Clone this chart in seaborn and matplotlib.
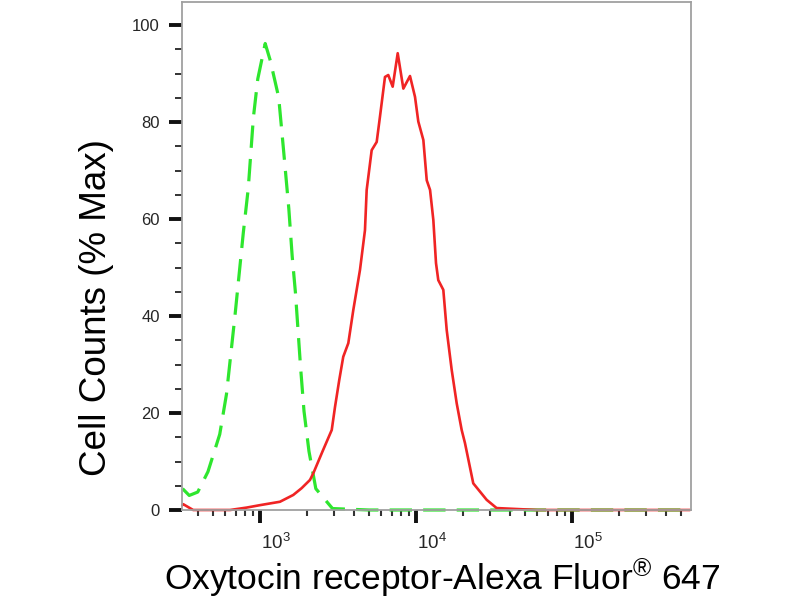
import numpy as np
import pandas as pd
import matplotlib
matplotlib.use("Agg")
import matplotlib.pyplot as plt
import matplotlib.ticker as mticker
import matplotlib.transforms as mtrans
import seaborn as sns

# ---- data ----
green_x = [319, 352, 399, 464, 552, 610, 691, 782, 841, 907, 968, 1080, 1164,
           1318, 1419, 1531, 1608, 1689, 1821, 1915, 2061, 2280, 2917, 5000,
           20000, 100000, 570000]
green_y = [4.4, 3.0, 3.7, 7.9, 15.6, 23.9, 40.0, 57.2, 66.3, 80.9, 88.9, 96.2,
           92.7, 85.1, 73.9, 62.1, 52.4, 44.7, 29.4, 20.4, 12.1, 4.4, 0.3, 0.0,
           0.0, 0.0, 0.0]

red_x = [318, 322, 373, 643, 822, 1000, 1343, 1634, 1849, 2092, 2199, 2518,
         2884, 3028, 3222, 3418, 3683, 3963, 4375, 4710, 4830, 5200, 5600,
         5876, 6328, 6642, 7090, 7636, 8298, 9154, 9857, 10350, 11150, 11720,
         12310, 12920, 13440, 13900, 14970, 15740, 16940, 18240, 19630, 20610,
         23290, 28380, 32870, 60000, 200000, 570000]
red_y = [1.0, 1.2, 0.0, 0.0, 0.5, 1.0, 1.7, 3.1, 4.5, 6.2, 7.6, 12.1,
         16.5, 21.3, 26.8, 31.6, 34.4, 41.2, 49.5, 57.7, 66.0, 74.2, 75.9,
         81.1, 89.3, 89.7, 87.3, 94.2, 86.9, 89.5, 85.2, 80.1, 76.3, 68.0,
         66.0, 59.8, 50.9, 47.4, 45.4, 37.1, 28.9, 22.0, 16.5, 13.8,
         5.5, 2.1, 0.4, 0.0, 0.0, 0.0]

y_ticks = [0, 20, 40, 60, 80, 100]
x_major = [1e3, 1e4, 1e5]
x_label = "Oxytocin receptor-Alexa Fluor$^{®}$ 647"
y_label = "Cell Counts (% Max)"

# ---- style ----
sns.set_theme(style="white")
plt.rcParams['font.family'] = ['Liberation Sans', 'DejaVu Sans']
plt.rcParams['mathtext.fontset'] = 'custom'
plt.rcParams['mathtext.rm'] = 'Liberation Sans'
plt.rcParams['mathtext.it'] = 'Liberation Sans:italic'
plt.rcParams['mathtext.bf'] = 'Liberation Sans:bold'

fig = plt.figure(figsize=(8, 6), dpi=100)
ax = fig.add_axes([181.5 / 800, 1 - 510 / 600, (690.7 - 181.5) / 800, (510 - 2.3) / 600])

green_df = pd.DataFrame({"x": green_x, "y": green_y})
red_df = pd.DataFrame({"x": red_x, "y": red_y})

sns.lineplot(data=green_df, x="x", y="y", ax=ax, color="#2ee62e",
             linewidth=2.3, linestyle=(0, (7, 3.5)), sort=False,
             estimator=None)
sns.lineplot(data=red_df, x="x", y="y", ax=ax, color="#f02424",
             linewidth=1.9, sort=False, estimator=None)
for ln in ax.lines:
    ln.set_clip_on(False)
    ln.set_solid_joinstyle("round")

ax.set_xscale("log")
ax.set_xlim(314, 576800)
ax.set_ylim(0, 104.7)

# y ticks
ax.set_yticks(y_ticks)
ax.yaxis.set_minor_locator(mticker.MultipleLocator(5))
ax.tick_params(axis="y", which="major", direction="out", length=9.5, width=2.8,
               color="#111111", labelsize=12, pad=6, left=True)
ax.tick_params(axis="y", which="minor", direction="out", length=5, width=1.4,
               color="#333333", left=True)

# x ticks
ax.xaxis.set_major_locator(mticker.FixedLocator(x_major))
ax.xaxis.set_major_formatter(mticker.LogFormatterSciNotation())
ax.xaxis.set_minor_locator(mticker.LogLocator(base=10, subs=np.arange(2, 10)))
ax.xaxis.set_minor_formatter(mticker.NullFormatter())
ax.tick_params(axis="x", which="major", direction="out", length=9.5, width=2.8,
               color="#111111", labelsize=13.5, pad=7, bottom=True)
ax.tick_params(axis="x", which="minor", direction="out", length=4.5, width=1.5,
               color="#333333", bottom=True)
offset = mtrans.ScaledTranslation(1 / 100, 0, fig.dpi_scale_trans)
for lbl in ax.get_xticklabels():
    lbl.set_horizontalalignment("left")
    lbl.set_transform(lbl.get_transform() + offset)

for side in ["left", "right", "top", "bottom"]:
    ax.spines[side].set_visible(True)
    ax.spines[side].set_color("#a0a0a0")
    ax.spines[side].set_linewidth(1.3)

ax.set_xlabel("")
ax.set_ylabel("")
fig.text(97 / 800, 1 - 307.5 / 600, y_label, rotation=90, fontsize=26.5,
         ha="center", va="center", color="black")
fig.text(442 / 800, 1 - 578 / 600, x_label, fontsize=25.5,
         ha="center", va="center", color="black")

fig.savefig("out.png", dpi=100)
